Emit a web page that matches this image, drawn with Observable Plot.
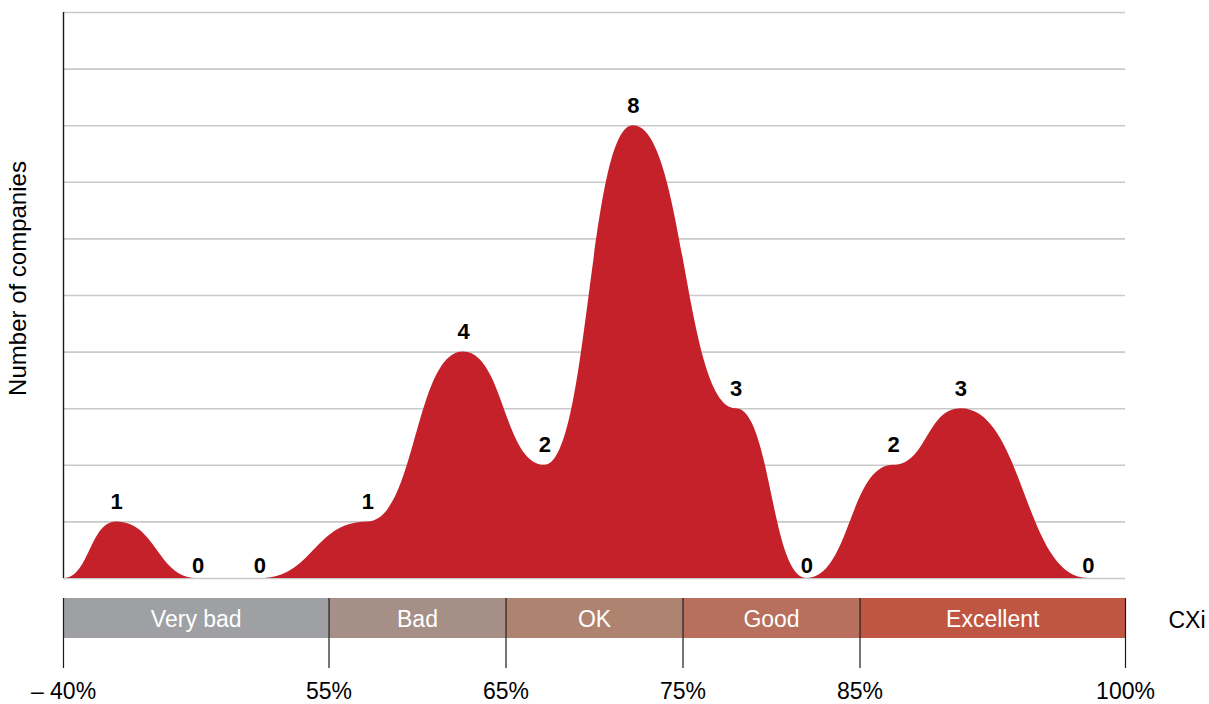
<!DOCTYPE html>
<html>
<head>
<meta charset="utf-8">
<script src="https://cdn.jsdelivr.net/npm/d3@7"></script>
<script src="https://cdn.jsdelivr.net/npm/@observablehq/plot@0.6"></script>
<style>
  html, body { margin: 0; padding: 0; background: #fff; }
  #chart svg { display: block; }
</style>
</head>
<body>
<div id="chart"></div>
<script>
// CXi score (%) at which each company count is plotted
const cxi = [43.0, 47.6, 51.1, 57.2, 62.6, 67.2, 72.2, 78.0, 82.0, 86.9, 90.7, 97.9];
// Number of companies at each score
const companies = [1, 0, 0, 1, 4, 2, 8, 3, 0, 2, 3, 0];

// CXi rating bands
const bandNames = ["Very bad", "Bad", "OK", "Good", "Excellent"];
const bandStart = [40, 55, 65, 75, 85];
const bandEnd = [55, 65, 75, 85, 100];
const bandColors = ["#9fa0a3", "#a68f86", "#ae8370", "#b86f5d", "#bf5643"];

// Axis ticks along the CXi scale
const cxiTicks = [40, 55, 65, 75, 85, 100];

const FONT = "'Liberation Sans', Arial, Helvetica, sans-serif";
const W = 1209;
const xDomain = [40, 100];

const points = cxi.map((x, i) => ({x, y: companies[i]}));
// the area starts on the baseline at the left edge of the scale
const curvePoints = [{x: xDomain[0], y: 0}, ...points];

const mainChart = Plot.plot({
  width: W,
  height: 588,
  marginTop: 12,
  marginBottom: 10,
  marginLeft: 63,
  marginRight: 84,
  style: {fontFamily: FONT, fontSize: "23px", background: "#fff"},
  x: {domain: xDomain, axis: null},
  y: {domain: [0, 10], axis: null},
  marks: [
    Plot.gridY(d3.range(0, 11), {stroke: "#c9c9c9", strokeOpacity: 1, strokeWidth: 1.6}),
    Plot.areaY(curvePoints, {x: "x", y: "y", curve: "bump-x", fill: "#c4212a"}),
    Plot.ruleX([xDomain[0]], {stroke: "#1a1a1a", strokeWidth: 1.4}),
    Plot.text(points.filter(d => d.y > 0), {
      x: "x", y: "y", text: d => String(d.y), dy: -20,
      fontWeight: "bold", fontSize: 22, fill: "#000"
    }),
    Plot.text(points.filter(d => d.y === 0), {
      x: "x", y: "y", text: d => String(d.y), dy: -13,
      fontWeight: "bold", fontSize: 22, fill: "#000"
    }),
    Plot.text(["Number of companies"], {
      frameAnchor: "left", textAnchor: "middle", rotate: -90, dx: -45, dy: -17,
      fontSize: 24, fill: "#000"
    })
  ]
});

const bands = bandNames.map((name, i) => ({
  name, x1: bandStart[i], x2: bandEnd[i], color: bandColors[i]
}));

const bandChart = Plot.plot({
  width: W,
  height: 116,
  marginTop: 10,
  marginBottom: 66,
  marginLeft: 63,
  marginRight: 84,
  style: {fontFamily: FONT, fontSize: "23px", background: "#fff", overflow: "visible"},
  x: {domain: xDomain},
  marks: [
    Plot.rect(bands, {x1: "x1", x2: "x2", fill: "color"}),
    Plot.text(bands, {x: d => (d.x1 + d.x2) / 2, text: "name", fill: "#fff", fontSize: 23, dy: 1}),
    Plot.ruleX(cxiTicks, {stroke: "#1a1a1a", strokeWidth: 1.2}),
    Plot.axisX({
      ticks: cxiTicks,
      tickSize: 30,
      tickPadding: 14,
      tickFormat: d => (d === 40 ? "– 40%" : d + "%"),
      stroke: "#1a1a1a",
      strokeWidth: 1.2,
      fill: "#000",
      label: null
    }),
    Plot.text(["CXi"], {frameAnchor: "right", dx: 43, dy: 2, textAnchor: "start", fontSize: 23, fill: "#000"})
  ]
});

const root = document.getElementById("chart");
root.appendChild(mainChart);
root.appendChild(bandChart);
</script>
</body>
</html>
